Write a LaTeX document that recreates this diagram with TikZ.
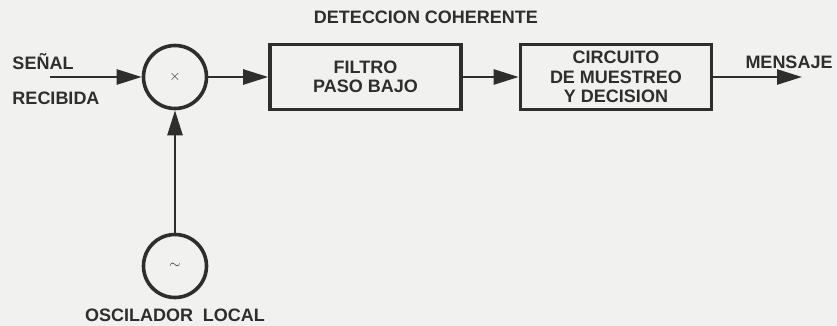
\documentclass[tikz,border=0pt]{standalone}
\usepackage{fontspec}
\setmainfont{Liberation Sans}
\usepackage{tikz}
\usetikzlibrary{arrows.meta}
\definecolor{ink}{HTML}{2E2E2E}
\definecolor{paper}{HTML}{F1F1EF}

\begin{document}
\begin{tikzpicture}[
  x=1pt, y=-1pt,
  lbl/.style={font=\fontsize{18}{19.5}\selectfont\bfseries, text=ink},
  block/.style={draw=ink, line width=3.6pt, minimum width=191pt, minimum height=65pt,
                align=center, inner sep=0pt, font=\fontsize{18}{19.5}\selectfont\bfseries, text=ink},
  disc/.style={circle, draw=ink, line width=3.6pt, minimum size=63pt, inner sep=0pt,
               font=\fontsize{14}{14}\selectfont, text=ink},
  sig/.style={draw=ink, line width=2.5pt, -{Triangle[length=25pt, width=15pt]}},
]

\fill[paper] (0,0) rectangle (837,326);
\useasboundingbox (0,0) rectangle (837,326);

\node[lbl] (title) at (426,17) {DETECCION COHERENTE};

\node[disc] (mix) at (175,77) {$\times$};
\node[disc] (osc) at (175,266) {$\sim$};
\node[block] (lpf) at (365.5,77) {FILTRO\\PASO BAJO};
\node[block] (dec) at (616,77) {CIRCUITO\\DE MUESTREO\\Y DECISION};

\coordinate (in) at (50,77);
\coordinate (out) at (802,77);

\node[lbl] (senal) at (43,62) {SEÑAL};
\node[lbl] (recib) at (56,98) {RECIBIDA};
\node[lbl] (msg) at (789,62) {MENSAJE};
\node[lbl] (oscl) at (175,315) {OSCILADOR\ \ LOCAL};

\draw[sig] (in) -- (mix);
\draw[sig] (mix) -- (lpf);
\draw[sig] (lpf) -- (dec);
\draw[sig] (dec.east) -- (out);
\draw[sig] (osc) -- (mix);

\end{tikzpicture}
\end{document}
